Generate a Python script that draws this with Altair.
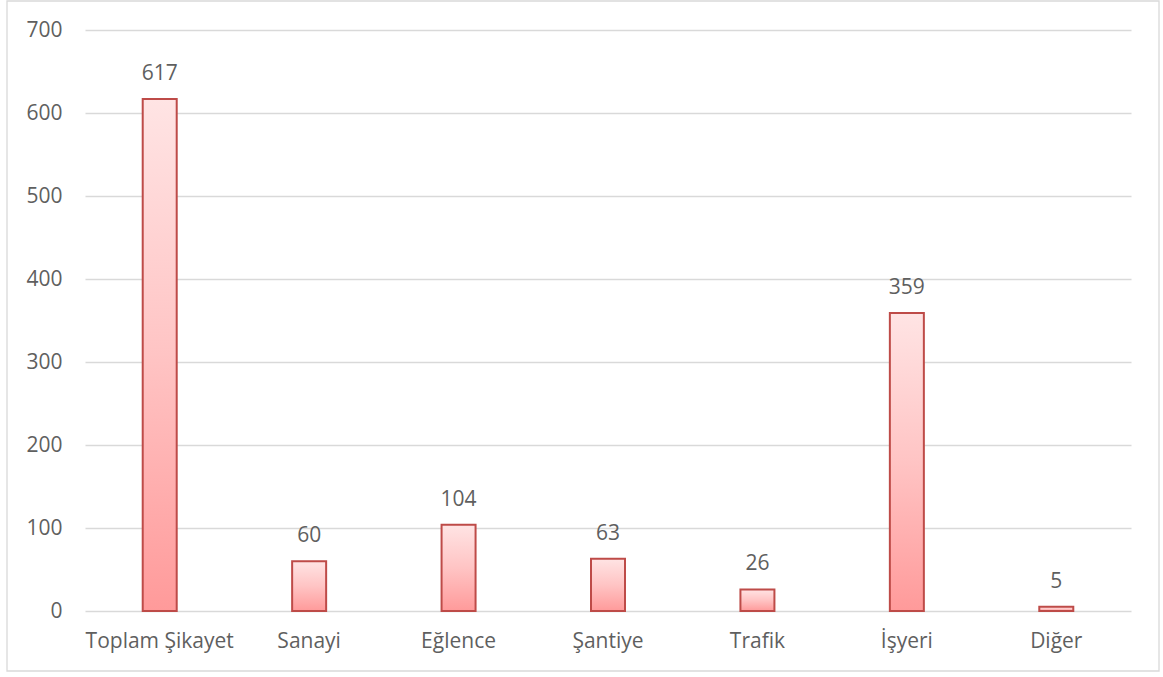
import altair as alt
import pandas as pd

# Noise complaints by source
categories = ["Toplam Şikayet", "Sanayi", "Eğlence", "Şantiye", "Trafik", "İşyeri", "Diğer"]
counts = [617, 60, 104, 63, 26, 359, 5]

df = pd.DataFrame({"kategori": categories, "sayi": counts})

TEXT_COLOR = "#5F5F5F"
GRID_COLOR = "#D9D9D9"
FONT = "Open Sans"
FONT_SIZE = 21

x_enc = alt.X(
    "kategori:N",
    sort=categories,
    title=None,
    scale=alt.Scale(paddingInner=0.0, paddingOuter=0.0),
    axis=alt.Axis(
        labelAngle=0,
        ticks=False,
        tickSize=0,
        domain=False,
        labelPadding=30,
        labelBaseline="middle",
        labelFontSize=FONT_SIZE,
        labelFont=FONT,
        labelColor=TEXT_COLOR,
        grid=False,
    ),
)

y_enc = alt.Y(
    "sayi:Q",
    title=None,
    scale=alt.Scale(domain=[0, 700], nice=False),
    axis=alt.Axis(
        values=[0, 100, 200, 300, 400, 500, 600, 700],
        ticks=False,
        tickSize=0,
        domain=False,
        labelPadding=23,
        labelFontSize=FONT_SIZE,
        labelFont=FONT,
        labelColor=TEXT_COLOR,
        grid=True,
        gridColor=GRID_COLOR,
        gridWidth=1.3,
    ),
)

bar_fill = alt.Gradient(
    gradient="linear",
    stops=[
        alt.GradientStop(color="#FFE4E4", offset=0),
        alt.GradientStop(color="#FFC4C4", offset=0.5),
        alt.GradientStop(color="#FF9A9A", offset=1),
    ],
    x1=0, x2=0, y1=0, y2=1,
)

bars = alt.Chart(df).mark_bar(
    size=34,
    fill=bar_fill,
    stroke="#BE4B48",
    strokeWidth=2,
).encode(x=x_enc, y=y_enc)

labels = alt.Chart(df).mark_text(
    baseline="alphabetic",
    dy=-19,
    fontSize=FONT_SIZE,
    font=FONT,
    color=TEXT_COLOR,
).encode(x=alt.X("kategori:N", sort=categories), y="sayi:Q", text="sayi:Q")

# thin frame around the whole chart area
frame = alt.Chart(pd.DataFrame({"k": [0]})).mark_rect(
    fill=None,
    stroke=GRID_COLOR,
    strokeWidth=1.3,
).encode(
    x=alt.value(-78),
    x2=alt.value(1074),
    y=alt.value(-29),
    y2=alt.value(641),
)

chart = (
    alt.layer(frame, bars, labels)
    .properties(
        width=1046,
        height=581,
        autosize=alt.AutoSizeParams(type="none"),
        padding={"left": 85, "top": 30, "right": 32, "bottom": 66},
        background="white",
    )
    .configure_view(strokeWidth=0)
)

chart.save("out.html", embed_options={"renderer": "svg", "actions": False})
